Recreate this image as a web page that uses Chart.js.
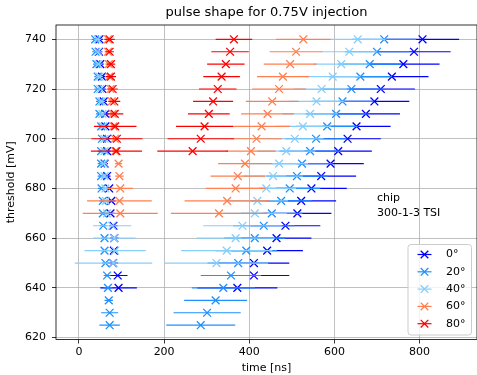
<!DOCTYPE html>
<html>
<head>
<meta charset="utf-8">
<script src="https://cdn.jsdelivr.net/npm/chart.js@4.4.1/dist/chart.umd.min.js"></script>
<style>
  html, body { margin: 0; padding: 0; background: #fff; }
</style>
</head>
<body>
<canvas id="pulseChart" width="477" height="375"></canvas>
<script>
// threshold scan levels (mV), top to bottom
const thresholds = [740, 735, 730, 725, 720, 715, 710, 705, 700, 695, 690, 685,
                    680, 675, 670, 665, 660, 655, 650, 645, 640, 635, 630, 625];

const xTicks = [0, 200, 400, 600, 800];
const yTicks = [620, 640, 660, 680, 700, 720, 740];

const angles = ['0°', '20°', '40°', '60°', '80°'];
const colors = ['blue', 'dodgerblue', 'lightskyblue', 'coral', 'red'];

// rising / falling edge crossing times and spread (ns), one entry per threshold
const rise0 = [48, 47, 50, 54, 55, 58, 62, 62, 66, 66, 60, 66, 71, 76, 74, 81, 83, 82, 80, 91, 93];
const riseErr0 = [8, 8, 8, 8, 8, 8, 8, 8, 8, 8, 8, 8, 8, 10, 10, 10, 10, 10, 12, 23, 43];
const fall0 = [807, 787, 762, 735, 709, 694, 674, 652, 631, 609, 591, 569, 546, 522, 513, 485, 464, 442, 411, 411, 372];
const fallErr0 = [86, 86, 85, 86, 80, 82, 80, 80, 78, 79, 78, 82, 83, 82, 80, 82, 82, 84, 83, 83, 94];

const rise20 = [38, 39, 41, 44, 44, 48, 48, 52, 54, 52, 52, 52, 53, 56, 56, 57, 60, 60, 62, 66, 68, 70, 72, 72];
const riseErr20 = [8, 8, 8, 8, 8, 8, 8, 8, 8, 8, 8, 8, 8, 8, 8, 8, 8, 8, 8, 8, 10, 10, 20, 24];
const fall20 = [717, 700, 683, 661, 640, 619, 604, 583, 557, 543, 524, 512, 495, 475, 453, 434, 413, 393, 374, 357, 339, 321, 301, 286];
const fallErr20 = [75, 75, 74, 74, 73, 73, 72, 72, 72, 72, 72, 72, 72, 72, 72, 72, 72, 72, 72, 71, 74, 74, 79, 81];

const rise40 = [44, 45, 46, 48, 50, 53, 55, 57, 60, 60, 58, 60, 62, 63, 66, 78, 83, 85, 81];
const riseErr40 = [8, 8, 8, 8, 8, 8, 8, 8, 8, 8, 8, 8, 8, 8, 8, 45, 50, 72, 91];
const fall40 = [655, 635, 616, 596, 570, 558, 543, 526, 507, 487, 470, 456, 440, 419, 413, 384, 368, 347, 323];
const fallErr40 = [65, 65, 65, 65, 65, 65, 65, 65, 68, 68, 68, 70, 70, 72, 75, 92, 92, 107, 121];

const rise60 = [68, 68, 70, 71, 74, 77, 79, 81, 84, 85, 93, 95, 97, 95, 97];
const riseErr60 = [8, 8, 8, 8, 8, 8, 8, 8, 8, 8, 8, 10, 30, 76, 88];
const fall60 = [527, 510, 496, 479, 470, 454, 443, 429, 417, 404, 390, 373, 368, 348, 329];
const fallErr60 = [64, 62, 62, 61, 63, 62, 62, 67, 60, 58, 63, 64, 70, 100, 113];

const rise80 = [72, 72, 75, 75, 79, 83, 84, 85, 89, 88];
const riseErr80 = [12, 10, 10, 12, 12, 14, 20, 50, 60, 60];
const fall80 = [364, 355, 345, 335, 326, 315, 305, 295, 286, 267];
const fallErr80 = [43, 44, 44, 43, 44, 47, 49, 67, 78, 83];

const chipNote = ['chip', '300-1-3 TSI'];
const chipNoteAt = { x: 700, y: 669 };

const FONT = 'DejaVu Sans';

function edgePoints(rise, riseErr, fall, fallErr) {
    const pts = [];
    thresholds.forEach((t, i) => {
        if (rise[i] != null) pts.push({ x: rise[i], y: t, xerr: riseErr[i] });
        if (fall[i] != null) pts.push({ x: fall[i], y: t, xerr: fallErr[i] });
    });
    return pts;
}

const seriesData = [
    edgePoints(rise0, riseErr0, fall0, fallErr0),
    edgePoints(rise20, riseErr20, fall20, fallErr20),
    edgePoints(rise40, riseErr40, fall40, fallErr40),
    edgePoints(rise60, riseErr60, fall60, fallErr60),
    edgePoints(rise80, riseErr80, fall80, fallErr80)
];

// horizontal error bars, drawn just under each dataset's markers
const errorBars = {
    id: 'errorBars',
    beforeDatasetDraw(chart, args) {
        const { ctx, chartArea, scales: { x, y } } = chart;
        const ds = chart.data.datasets[args.index];
        ctx.save();
        ctx.beginPath();
        ctx.rect(chartArea.left, chartArea.top, chartArea.width, chartArea.height);
        ctx.clip();
        ctx.strokeStyle = ds.borderColor;
        ctx.lineWidth = 1.2;
        ds.data.forEach(p => {
            const py = y.getPixelForValue(p.y);
            ctx.beginPath();
            ctx.moveTo(x.getPixelForValue(p.x - p.xerr), py);
            ctx.lineTo(x.getPixelForValue(p.x + p.xerr), py);
            ctx.stroke();
        });
        ctx.restore();
    }
};

function drawCross(ctx, cx, cy, r) {
    ctx.beginPath();
    ctx.moveTo(cx - r, cy - r); ctx.lineTo(cx + r, cy + r);
    ctx.moveTo(cx - r, cy + r); ctx.lineTo(cx + r, cy - r);
    ctx.stroke();
}

// axes frame, title, chip note and legend box
const decorations = {
    id: 'decorations',
    afterDraw(chart) {
        const { ctx, chartArea: a, scales: { x, y } } = chart;
        ctx.save();

        ctx.strokeStyle = '#000';
        ctx.lineWidth = 0.8;
        ctx.strokeRect(a.left, a.top, a.right - a.left, a.bottom - a.top);

        ctx.fillStyle = '#000';
        ctx.font = `13px "${FONT}"`;
        ctx.textAlign = 'center';
        ctx.textBaseline = 'middle';
        ctx.fillText('pulse shape for 0.75V injection', (a.left + a.right) / 2, 13);

        ctx.font = `11px "${FONT}"`;
        ctx.textAlign = 'left';
        ctx.textBaseline = 'alphabetic';
        const nx = x.getPixelForValue(chipNoteAt.x);
        const ny = y.getPixelForValue(chipNoteAt.y);
        chipNote.forEach((line, i) => {
            ctx.fillText(line, nx, ny - (chipNote.length - 1 - i) * 15);
        });

        // legend in the lower right corner
        const w = 63.5, h = 90.5;
        const bx = a.right - 5.5 - w, by = a.bottom - 4.5 - h;
        ctx.fillStyle = 'rgba(255,255,255,0.8)';
        ctx.strokeStyle = '#cccccc';
        ctx.lineWidth = 1;
        ctx.beginPath();
        ctx.roundRect(bx, by, w, h, 3);
        ctx.fill();
        ctx.stroke();

        ctx.font = `11px "${FONT}"`;
        ctx.textBaseline = 'middle';
        chart.data.datasets.forEach((ds, i) => {
            const ey = by + 10 + i * 17.3;
            const hx = bx + 16.5;
            ctx.strokeStyle = ds.borderColor;
            ctx.lineWidth = 1.2;
            ctx.beginPath();
            ctx.moveTo(hx - 7, ey);
            ctx.lineTo(hx + 7, ey);
            ctx.stroke();
            ctx.lineWidth = 1.3;
            drawCross(ctx, hx, ey, 3.8);
            ctx.fillStyle = '#000';
            ctx.fillText(ds.label, bx + 38, ey);
        });

        ctx.restore();
    }
};

const ctx = document.getElementById('pulseChart').getContext('2d');
new Chart(ctx, {
    type: 'scatter',
    data: {
        datasets: angles.map((label, i) => ({
            label: label,
            data: seriesData[i],
            borderColor: colors[i],
            backgroundColor: colors[i],
            pointStyle: 'crossRot',
            pointRadius: 5.5,
            pointHoverRadius: 5.5,
            pointBorderWidth: 1.3,
            order: angles.length - i
        }))
    },
    options: {
        responsive: false,
        devicePixelRatio: 1,
        animation: false,
        // right spine sits just past the canvas edge
        layout: { autoPadding: false, padding: { top: 25, right: -1, left: 0, bottom: 0 } },
        plugins: {
            legend: { display: false },
            title: { display: false },
            tooltip: { enabled: false }
        },
        scales: {
            x: {
                type: 'linear',
                min: -54,
                max: 935,
                afterBuildTicks: s => { s.ticks = xTicks.map(v => ({ value: v })); },
                afterFit: s => { s.height = 35.5; },
                border: { display: false },
                grid: { color: '#b0b0b0', lineWidth: 0.8, tickColor: '#000', tickLength: 4 },
                ticks: { color: '#000', font: { family: FONT, size: 11 }, padding: 2, maxRotation: 0 },
                title: { display: true, text: 'time [ns]', color: '#000',
                         font: { family: FONT, size: 11 }, padding: { top: 0, bottom: 0 } }
            },
            y: {
                type: 'linear',
                min: 619.25,
                max: 745.75,
                afterBuildTicks: s => { s.ticks = yTicks.map(v => ({ value: v })); },
                afterFit: s => { s.width = 56; },
                border: { display: false },
                grid: { color: '#b0b0b0', lineWidth: 0.8, tickColor: '#000', tickLength: 4 },
                ticks: { color: '#000', font: { family: FONT, size: 11 }, padding: 6 },
                title: { display: true, text: 'threshold [mV]', color: '#000',
                         font: { family: FONT, size: 11 }, padding: { top: 5, bottom: 0 } }
            }
        }
    },
    plugins: [errorBars, decorations]
});
</script>
</body>
</html>
